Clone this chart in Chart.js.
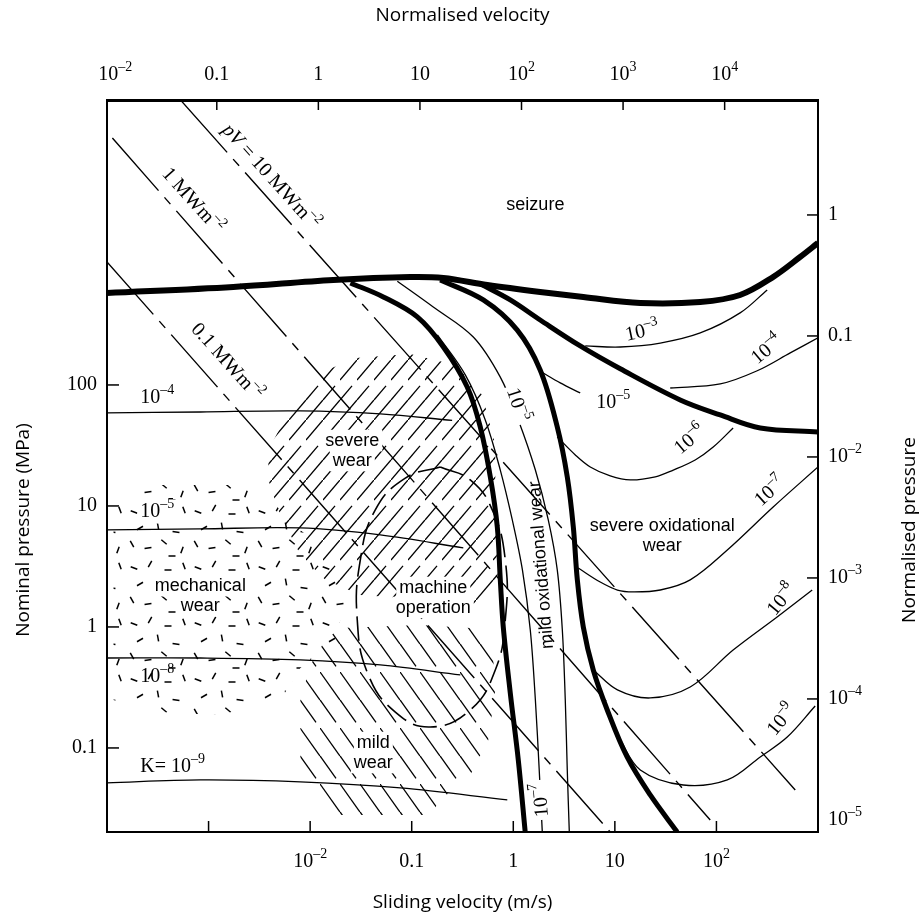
<!DOCTYPE html>
<html>
<head>
<meta charset="utf-8">
<script src="https://cdn.jsdelivr.net/npm/chart.js@4.4.1/dist/chart.umd.min.js"></script>
<style>
  html, body { margin: 0; padding: 0; background: #fff; }
  canvas { display: block; }
</style>
</head>
<body>
<canvas id="wearMap" width="924" height="922" style="width:924px;height:922px"></canvas>
<script>
// axis ranges (sliding velocity in m/s, nominal pressure in MPa)
const velMin = 1e-4, velMax = 1e3;
const pressMin = 0.0202, pressMax = 22650;
const velNorm = 83;       // normalised velocity = v * velNorm
const pressNorm = 2541;   // normalised pressure = p / pressNorm

const velTicks = [1e-3, 1e-2, 0.1, 1, 10, 100];
const velTickLabels = ['', '10^–2', '0.1', '1', '10', '10^2'];
const normVelTicks = [1e-2, 0.1, 1, 10, 100, 1e3, 1e4];
const normVelTickLabels = ['10^–2', '0.1', '1', '10', '10^2', '10^3', '10^4'];
const pressTicks = [100, 10, 1, 0.1];
const pressTickLabels = ['100', '10', '1', '0.1'];
const normPressTicks = [1, 0.1, 1e-2, 1e-3, 1e-4, 1e-5];
const normPressTickLabels = ['1', '0.1', '10^–2', '10^–3', '10^–4', '10^–5'];

// field boundaries [v, p]
const seizureLine = [[1e-4,575],[1.75e-3,646],[0.0169,738],[0.0969,781],[0.205,766],[0.555,670],[1.84,587],[4.89,534],[17.8,476],[69.3,485],[171,554],[362,781],[668,1143],[1000,1492]];
const oxideBranch = [[0.473,684],[0.934,504],[1.84,344],[4.56,210],[11.3,136],[44.0,75.2],[109,56.5],[270,44.1],[1000,40.9]];
const mildSevereLine = [[0.0249,697],[0.0525,534],[0.1135,365],[0.205,206],[0.352,96.2],[0.473,45.0],[0.594,17.4],[0.696,6.70],[0.745,2.45],[0.797,1.0],[0.934,0.285],[1.12,0.0796],[1.31,0.0202]];
const oxidationLine = [[0.191,738],[0.507,504],[1.09,285],[1.84,133],[2.71,45.0],[3.40,17.4],[3.90,6.70],[4.27,2.45],[4.89,1.0],[6.13,0.441],[8.42,0.206],[13.2,0.0843],[22.3,0.0409],[41.1,0.0202]];

// wear-rate contours K
const kLeft4 = [[1e-4,58.7],[8.3e-4,59.8],[8.0e-3,61.0],[0.0491,57.6],[0.25,51]];
const kLeft5 = [[1e-4,6.34],[8.3e-4,6.46],[8.0e-3,6.58],[0.0491,5.76],[0.322,4.50]];
const kLeft8 = [[1e-4,0.554],[8.3e-4,0.554],[8.0e-3,0.534],[0.0491,0.485],[0.301,0.401]];
const kLeft9 = [[1e-4,0.0514],[8.3e-4,0.0544],[8.0e-3,0.0524],[0.0773,0.0467],[0.873,0.0372]];
const kBand5 = [[0.0722,720],[0.163,441],[0.404,249],[0.745,116],[1.12,51.4],[1.65,19.8],[2.21,7.66],[2.71,2.96],[3.04,0.944],[3.25,0.249],[3.40,0.0658],[3.56,0.0202]];
const kBand7 = [[0.179,259],[0.337,121],[0.530,51.4],[0.745,19.8],[0.978,7.66],[1.23,2.96],[1.47,0.944],[1.65,0.249],[1.80,0.0658],[1.93,0.0202]];
const kRight3 = [[5.11,210],[11.3,206],[28.0,222],[69.3,269],[171,394],[316,610]];
const kRight4 = [[35.1,94.4],[109,102],[252,131],[533,184],[1000,245]];
const kRight5 = [[1.89,128],[2.90,104],[4.56,85.9]];
const kRight6 = [[2.71,37.2],[4.08,26.4],[5.73,21.0],[9.01,17.7],[14.2,16.4],[25.0,17.4],[37.6,19.8],[61.8,24.0],[93.0,30.7],[146,44.1]];
const kRight7 = [[4.36,3.07],[7.18,2.35],[10.6,2.02],[15.2,1.95],[28.0,2.02],[55.2,2.45],[128,4.33],[362,9.81],[1000,21.0]];
const kRight8 = [[6.13,0.441],[10.6,0.302],[22.3,0.259],[55.2,0.319],[146,0.645],[396,1.21],[877,2.02]];
const kRight9 = [[11.0,0.121],[17.8,0.0658],[47.1,0.0494],[128,0.0544],[270,0.0843],[498,0.123],[938,0.222]];

// pV lines (MW/m2)
const pv10 = [[5.3e-4,22600],[597,0.045]];
const pv1 = [[1.13e-4,11000],[86.9,0.0254]];
const pv01 = [[1e-4,1040],[9.01,0.0202]];

// zones
const machineZone = [[0.191,21.0],[0.377,16.4],[0.621,9.27],[0.834,3.58],[0.834,1.14],[0.665,0.441],[0.377,0.206],[0.152,0.149],[0.069,0.198],[0.0374,0.401],[0.0291,1.14],[0.0312,3.58],[0.0438,9.27],[0.0865,17.0],[0.191,21.0]];
const severeZone = [[3.88e-3,29.0],[6.68e-3,68.4],[0.0132,128],[0.0279,167],[0.0969,180],[0.269,146],[0.495,82.6],[0.665,31.9],[0.665,7.66],[0.711,2.02],[0.473,1.52],[0.191,1.67],[0.0773,1.74],[0.0312,1.84],[0.0141,2.45],[8.01e-3,3.94],[4.86e-3,9.27],[3.88e-3,16.4]];
const mildZone = [[0.0198,0.981],[0.1215,1.04],[0.377,0.981],[0.621,0.710],[0.665,0.302],[0.567,0.116],[0.377,0.0598],[0.191,0.0372],[0.152,0.0279],[0.0158,0.0279],[0.01125,0.0450],[8.01e-3,0.0796],[8.01e-3,0.249],[0.01005,0.485],[0.0141,0.781]];
const mechanicalZone = [[1.16e-4,11.2],[3.36e-4,14.9],[2.06e-3,14.9],[4.54e-3,10.2],[8.01e-3,6.34],[0.0177,3.58],[0.0222,1.67],[0.0177,0.781],[8.01e-3,0.458],[5.09e-3,0.249],[1.31e-3,0.187],[2.67e-4,0.198],[1.16e-4,0.249]];

const SERIF = '"Liberation Serif", "Times New Roman", serif';
const SANS = '"Liberation Sans", Arial, sans-serif';
const TITLE = '"Open Sans", sans-serif';

const canvas = document.getElementById('wearMap');
const mainCtx = canvas.getContext('2d');

function makePattern(w, h, paint) {
    const c = document.createElement('canvas');
    c.width = w; c.height = h;
    const g = c.getContext('2d');
    g.strokeStyle = '#000';
    g.lineWidth = 1.3;
    paint(g);
    return mainCtx.createPattern(c, 'repeat');
}
function segs(g, list) {
    list.forEach(([a, b, c, d]) => { g.beginPath(); g.moveTo(a, b); g.lineTo(c, d); g.stroke(); });
}
const slashHatch = makePattern(17, 60, g => segs(g, [[0,60,17,40],[0,40,12,25.9],[0,20,17,0]]));
const backHatch = makePattern(20, 56, g => segs(g, [[0,0,20,28],[0,28,16,50.4]]));
const flecks = makePattern(64, 56, g => {
    g.lineWidth = 1.5;
    [[6,8,20],[22,4,-60],[40,10,0],[56,6,70],[12,24,-30],[30,22,80],[48,28,10],
     [4,40,60],[20,44,-10],[36,38,40],[54,46,-70],[44,52,0]].forEach(([x, y, a]) => {
        const r = a * Math.PI / 180, l = 3.5;
        g.beginPath();
        g.moveTo(x - l * Math.cos(r), y - l * Math.sin(r));
        g.lineTo(x + l * Math.cos(r), y + l * Math.sin(r));
        g.stroke();
    });
});

const pts = arr => arr.map(([x, y]) => ({x, y}));
const thin = (data, extra = {}) => Object.assign({
    data: pts(data), showLine: true, borderColor: '#000', borderWidth: 1.3,
    pointRadius: 0, pointHoverRadius: 0, tension: 0.35, fill: false, order: 1
}, extra);
const thick = (data, w) => thin(data, {borderWidth: w, order: 0});
const dashed = data => thin(data, {borderDash: [70, 9, 9, 9], borderWidth: 1.4, tension: 0, order: 2});
const zone = (data, pattern) => ({
    data: pts(data), showLine: true, borderWidth: 0, borderColor: 'rgba(0,0,0,0)',
    backgroundColor: pattern, fill: 'shape', pointRadius: 0, tension: 0, order: 3
});

function drawRich(ctx, str, x, y, o = {}) {
    const size = o.size || 20;
    const fam = o.family || SERIF;
    const parts = str.split(/(\^\S+|\*[^*]+\*)/).filter(Boolean).map(s =>
        s[0] === '^' ? {t: s.slice(1), f: Math.round(size * 0.68) + 'px ' + fam, dy: -size * 0.38}
        : s[0] === '*' ? {t: s.slice(1, -1), f: 'italic ' + size + 'px ' + fam, dy: 0}
        : {t: s, f: size + 'px ' + fam, dy: 0});
    let w = 0;
    parts.forEach(p => { ctx.font = p.f; p.w = ctx.measureText(p.t).width; w += p.w; });
    ctx.save();
    ctx.translate(x, y);
    if (o.rot) ctx.rotate(o.rot * Math.PI / 180);
    let x0 = o.align === 'left' ? 0 : o.align === 'right' ? -w : -w / 2;
    if (o.bg) {
        ctx.fillStyle = '#fff';
        ctx.fillRect(x0 - 3, -size * 0.62, w + 6, size * 1.2);
    }
    ctx.fillStyle = '#000';
    ctx.textAlign = 'left';
    ctx.textBaseline = 'middle';
    parts.forEach(p => { ctx.font = p.f; ctx.fillText(p.t, x0, p.dy); x0 += p.w; });
    ctx.restore();
}

const regionLabels = [
    {lines: ['seizure'], v: 1.65, p: 3075},
    {lines: ['severe', 'wear'], v: 0.026, p: 28.5, bg: true},
    {lines: ['mechanical', 'wear'], v: 8.3e-4, p: 1.80, bg: true},
    {lines: ['machine', 'operation'], v: 0.163, p: 1.74, bg: true},
    {lines: ['mild', 'wear'], v: 0.0419, p: 0.091, bg: true},
    {lines: ['severe oxidational', 'wear'], v: 29.3, p: 5.65},
    {lines: ['mild oxidational wear'], v: 1.89, p: 3.25, rot: -94.5}
];
const contourLabels = [
    {t: '10^–4', v: 2.13e-4, p: 78.1, align: 'left'},
    {t: '10^–5', v: 2.13e-4, p: 8.92, align: 'left', bg: true},
    {t: '10^–8', v: 2.13e-4, p: 0.386, align: 'left'},
    {t: 'K= 10^–9', v: 2.13e-4, p: 0.0697, align: 'left'},
    {t: '10^–3', v: 18.6, p: 274, rot: -12},
    {t: '10^–4', v: 316, p: 195, rot: -40},
    {t: '10^–5', v: 9.64, p: 71.0},
    {t: '10^–6', v: 55.2, p: 35.1, rot: -40},
    {t: '10^–7', v: 339, p: 13.1, rot: -42},
    {t: '10^–8', v: 444, p: 1.67, rot: -50},
    {t: '10^–9', v: 444, p: 0.170, rot: -50},
    {t: '10^–5', v: 1.09, p: 68.4, rot: 72, bg: true},
    {t: '10^–7', v: 1.89, p: 0.0372, rot: -95, bg: true},
    {t: '*pV* = 10 MWm^–2', v: 4.06e-3, p: 5236, rot: 48},
    {t: '1 MWm^–2', v: 6.93e-4, p: 3317, rot: 48},
    {t: '0.1 MWm^–2', v: 1.50e-3, p: 155, rot: 48}
];

const wearMapDecor = {
    id: 'wearMapDecor',
    beforeDraw(chart) {
        const c = chart.ctx;
        c.save(); c.fillStyle = '#fff'; c.fillRect(0, 0, chart.width, chart.height); c.restore();
    },
    afterDraw(chart) {
        const {ctx, chartArea: a, scales} = chart;
        ctx.save();
        ctx.strokeStyle = '#000';
        ctx.lineWidth = 1.5;
        const line = (x1, y1, x2, y2) => { ctx.beginPath(); ctx.moveTo(x1, y1); ctx.lineTo(x2, y2); ctx.stroke(); };

        velTicks.forEach((v, i) => {
            const x = scales.x.getPixelForValue(v);
            line(x, a.bottom, x, a.bottom - 11);
            if (velTickLabels[i]) drawRich(ctx, velTickLabels[i], x, a.bottom + 30);
        });
        normVelTicks.forEach((v, i) => {
            const x = scales.x2.getPixelForValue(v);
            if (x - a.left > 12) line(x, a.top, x, a.top + 10);
            drawRich(ctx, normVelTickLabels[i], x, a.top - 25);
        });
        pressTicks.forEach((p, i) => {
            const y = scales.y.getPixelForValue(p);
            line(a.left, y, a.left + 12, y);
            drawRich(ctx, pressTickLabels[i], a.left - 10, y, {align: 'right'});
        });
        normPressTicks.forEach((p, i) => {
            const y = scales.y2.getPixelForValue(p);
            if (a.bottom - y > 20) line(a.right, y, a.right - 11, y);
            drawRich(ctx, normPressTickLabels[i], a.right + 10, y, {align: 'left'});
        });

        drawRich(ctx, 'Normalised velocity', (a.left + a.right) / 2, 16, {family: TITLE, size: 19});
        drawRich(ctx, 'Sliding velocity (m/s)', (a.left + a.right) / 2, 903, {family: TITLE, size: 19});
        drawRich(ctx, 'Nominal pressure (MPa)', 24, 530, {family: TITLE, size: 19, rot: -90});
        drawRich(ctx, 'Normalised pressure', 910, 530, {family: TITLE, size: 19, rot: -90});

        regionLabels.forEach(l => {
            const x = scales.x.getPixelForValue(l.v), y = scales.y.getPixelForValue(l.p);
            const n = l.lines.length;
            l.lines.forEach((t, k) => {
                if (l.rot) {
                    drawRich(ctx, t, x, y, {family: SANS, size: 18, rot: l.rot, bg: l.bg});
                } else {
                    drawRich(ctx, t, x, y + (k - (n - 1) / 2) * 20, {family: SANS, size: 18, bg: l.bg});
                }
            });
        });
        contourLabels.forEach(l => {
            drawRich(ctx, l.t, scales.x.getPixelForValue(l.v), scales.y.getPixelForValue(l.p),
                {align: l.align, rot: l.rot, bg: l.bg, size: 20});
        });
        ctx.restore();
    }
};

const hiddenAxis = (pos, min, max, fit, bw) => ({
    type: 'logarithmic', position: pos, min, max, bounds: 'data',
    grid: {display: false, drawTicks: false},
    ticks: {display: false},
    border: {display: true, color: '#000', width: bw || 2},
    afterFit: fit
});

new Chart(canvas, {
    type: 'scatter',
    data: {
        datasets: [
            zone(severeZone, slashHatch),
            zone(mildZone, backHatch),
            zone(mechanicalZone, flecks),
            dashed(pv10), dashed(pv1), dashed(pv01),
            thin(machineZone, {borderDash: [24, 8], borderWidth: 1.6, tension: 0.45, order: 2}),
            thin(kLeft4), thin(kLeft5), thin(kLeft8), thin(kLeft9),
            thin(kBand5), thin(kBand7),
            thin(kRight3), thin(kRight4), thin(kRight5), thin(kRight6),
            thin(kRight7), thin(kRight8), thin(kRight9),
            thick(seizureLine, 6), thick(oxideBranch, 5),
            thick(mildSevereLine, 5), thick(oxidationLine, 5)
        ]
    },
    options: {
        responsive: false,
        animation: false,
        devicePixelRatio: 1,
        events: [],
        layout: {padding: 0},
        plugins: {legend: {display: false}, tooltip: {enabled: false}},
        scales: {
            x: hiddenAxis('bottom', velMin, velMax, s => { s.height = 90; }),
            x2: hiddenAxis('top', velMin * velNorm, velMax * velNorm, s => { s.height = 100; }, 3),
            y: hiddenAxis('left', pressMin, pressMax, s => { s.width = 107; }),
            y2: hiddenAxis('right', pressMin / pressNorm, pressMax / pressNorm, s => { s.width = 106; })
        }
    },
    plugins: [wearMapDecor]
});
</script>
</body>
</html>
